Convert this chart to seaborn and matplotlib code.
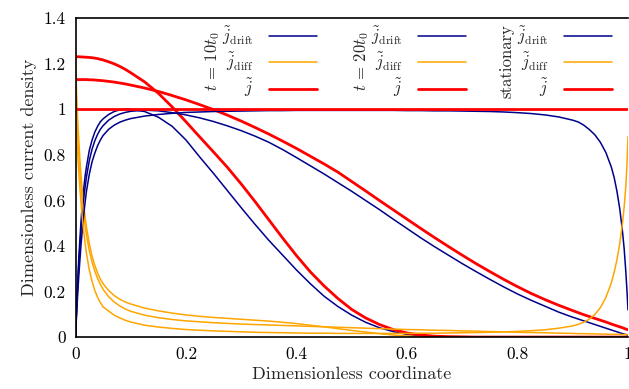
import matplotlib
matplotlib.use("Agg")
import matplotlib.pyplot as plt
import seaborn as sns

# ---------------- data ----------------
x = [0, 0.002, 0.004, 0.006, 0.008, 0.01, 0.0125, 0.015, 0.0175, 0.02, 0.025, 0.03,
     0.035, 0.04, 0.045, 0.05, 0.06, 0.07, 0.08, 0.09, 0.1,
     0.125, 0.15, 0.175, 0.2, 0.225, 0.25, 0.275, 0.3, 0.325, 0.35, 0.375, 0.4,
     0.425, 0.45, 0.475, 0.5, 0.525, 0.55, 0.575, 0.6, 0.625, 0.65, 0.675, 0.7,
     0.725, 0.75, 0.775, 0.8, 0.825, 0.85, 0.875,
     0.9, 0.91, 0.92, 0.93, 0.94, 0.95, 0.96, 0.97, 0.975, 0.98, 0.985, 0.99,
     0.993, 0.996, 0.998, 1.0]

# t = 10 t0
drift_10 = [0, 0.13, 0.25, 0.35, 0.43, 0.51, 0.59, 0.655, 0.71, 0.75, 0.82, 0.865,
            0.9, 0.925, 0.945, 0.958, 0.977, 0.99, 0.997, 1.0, 0.999,
            0.99, 0.965, 0.925, 0.865, 0.79, 0.718, 0.643, 0.568, 0.495, 0.425, 0.36,
            0.295, 0.235, 0.18, 0.135, 0.097, 0.066, 0.042, 0.025, 0.013, 0.006, 0.003,
            0.001, 0, 0, 0, 0, 0, 0, 0, 0,
            0, 0, 0, 0, 0, 0, 0, 0, 0, 0, 0, 0, 0, 0, 0, 0]
diff_10 = [1.23, 1.07, 0.95, 0.86, 0.78, 0.71, 0.635, 0.575, 0.525, 0.48, 0.41, 0.355,
           0.315, 0.282, 0.255, 0.235, 0.205, 0.183, 0.167, 0.155, 0.146,
           0.128, 0.116, 0.106, 0.098, 0.092, 0.087, 0.083, 0.079, 0.075, 0.071, 0.066,
           0.06, 0.053, 0.046, 0.038, 0.03, 0.023, 0.016, 0.01, 0.006, 0.003, 0.0015,
           0.0007, 0.0003, 0, 0, 0, 0, 0, 0, 0,
           0, 0, 0, 0, 0, 0, 0, 0, 0, 0, 0, 0, 0, 0, 0, 0]
total_10 = [1.23, 1.23, 1.23, 1.23, 1.23, 1.229, 1.229, 1.229, 1.228, 1.228, 1.227, 1.226,
            1.224, 1.222, 1.219, 1.216, 1.208, 1.199, 1.188, 1.175, 1.16,
            1.12, 1.07, 1.01, 0.945, 0.878, 0.812, 0.745, 0.672, 0.595, 0.515, 0.435,
            0.358, 0.287, 0.225, 0.17, 0.122, 0.085, 0.056, 0.034, 0.019, 0.01, 0.005,
            0.003, 0.002, 0.001, 0.001, 0.001, 0.001, 0.001, 0.001, 0.001,
            0.001, 0.001, 0.001, 0.001, 0.001, 0.001, 0.001, 0.001, 0.001, 0.001,
            0.001, 0.001, 0.001, 0.001, 0.001, 0.001]

# t = 20 t0
drift_20 = [0, 0.12, 0.23, 0.32, 0.4, 0.47, 0.545, 0.61, 0.66, 0.705, 0.775, 0.825,
            0.862, 0.89, 0.912, 0.928, 0.952, 0.968, 0.979, 0.986, 0.991,
            0.996, 0.993, 0.985, 0.975, 0.962, 0.946, 0.927, 0.906, 0.882, 0.855, 0.823,
            0.788, 0.752, 0.716, 0.678, 0.64, 0.6, 0.56, 0.518, 0.477, 0.436, 0.397,
            0.36, 0.323, 0.288, 0.254, 0.221, 0.19, 0.162, 0.136, 0.11,
            0.088, 0.08, 0.072, 0.064, 0.056, 0.048, 0.04, 0.032, 0.028, 0.024, 0.02,
            0.016, 0.014, 0.012, 0.011, 0.01]
diff_20 = [1.13, 0.99, 0.88, 0.795, 0.725, 0.66, 0.59, 0.535, 0.485, 0.445, 0.38, 0.33,
           0.29, 0.258, 0.232, 0.21, 0.178, 0.155, 0.138, 0.124, 0.114,
           0.097, 0.086, 0.078, 0.072, 0.068, 0.064, 0.061, 0.058, 0.056, 0.054, 0.052,
           0.05, 0.048, 0.046, 0.044, 0.042, 0.04, 0.038, 0.036, 0.034, 0.033, 0.031,
           0.03, 0.028, 0.027, 0.025, 0.024, 0.022, 0.021, 0.02, 0.018,
           0.017, 0.016, 0.016, 0.015, 0.015, 0.014, 0.014, 0.013, 0.013, 0.013, 0.013,
           0.012, 0.012, 0.012, 0.012, 0.012]
total_20 = [1.13, 1.13, 1.13, 1.13, 1.13, 1.13, 1.13, 1.13, 1.13, 1.13, 1.129, 1.129,
            1.128, 1.127, 1.126, 1.125, 1.122, 1.119, 1.115, 1.111, 1.106,
            1.093, 1.078, 1.06, 1.041, 1.02, 0.998, 0.974, 0.948, 0.92, 0.891, 0.86,
            0.828, 0.794, 0.76, 0.724, 0.683, 0.642, 0.6, 0.559, 0.518, 0.477, 0.437,
            0.398, 0.36, 0.323, 0.288, 0.254, 0.222, 0.192, 0.165, 0.14,
            0.117, 0.108, 0.099, 0.091, 0.083, 0.075, 0.067, 0.058, 0.054, 0.05, 0.046,
            0.042, 0.039, 0.036, 0.035, 0.033]

# stationary
drift_st = [0, 0.1, 0.19, 0.27, 0.34, 0.405, 0.475, 0.54, 0.595, 0.643, 0.715, 0.77,
            0.808, 0.84, 0.865, 0.885, 0.912, 0.93, 0.943, 0.952, 0.959,
            0.97, 0.977, 0.982, 0.986, 0.988, 0.99, 0.991, 0.992, 0.993, 0.994, 0.994,
            0.995, 0.995, 0.995, 0.995, 0.995, 0.995, 0.995, 0.995, 0.994, 0.994, 0.993,
            0.993, 0.992, 0.991, 0.99, 0.988, 0.985, 0.981, 0.975, 0.966,
            0.952, 0.944, 0.93, 0.911, 0.888, 0.855, 0.81, 0.745, 0.7, 0.64, 0.565,
            0.465, 0.39, 0.29, 0.21, 0.12]
diff_st = [1.0, 0.89, 0.8, 0.72, 0.65, 0.59, 0.52, 0.46, 0.41, 0.365, 0.295, 0.245,
           0.205, 0.175, 0.152, 0.133, 0.115, 0.097, 0.085, 0.075, 0.067,
           0.053, 0.045, 0.039, 0.034, 0.031, 0.028, 0.026, 0.024, 0.022, 0.021, 0.02,
           0.019, 0.018, 0.018, 0.017, 0.017, 0.017, 0.017, 0.017, 0.017, 0.018, 0.018,
           0.019, 0.02, 0.021, 0.022, 0.024, 0.026, 0.029, 0.033, 0.04,
           0.05, 0.057, 0.066, 0.08, 0.1, 0.13, 0.175, 0.24, 0.285, 0.34, 0.41,
           0.5, 0.57, 0.66, 0.75, 0.88]
x_total_st = [0, 1.0]
total_st = [1.0, 1.0]

x_ticks = [0, 0.2, 0.4, 0.6, 0.8, 1.0]
x_ticklabels = ["0", "0.2", "0.4", "0.6", "0.8", "1"]
y_ticks = [0, 0.2, 0.4, 0.6, 0.8, 1.0, 1.2, 1.4]
y_ticklabels = ["0", "0.2", "0.4", "0.6", "0.8", "1", "1.2", "1.4"]

group_titles = [r"$t\,=\,10t_0$", r"$t\,=\,20t_0$", "stationary"]
series_labels = [r"$\tilde{j}_{\mathrm{drift}}$", r"$\tilde{j}_{\mathrm{diff}}$", r"$\tilde{j}$"]

# ---------------- style ----------------
sns.set_style("white")
plt.rcParams.update({
    "font.family": ["cmr10", "DejaVu Serif"],
    "mathtext.fontset": "cm",
    "axes.formatter.use_mathtext": True,
    "font.size": 12,
})

NAVY = "#00008B"
ORANGE = "#FFA500"
RED = "#FF0000"
thin = 1.1
thick = 2.0

fig = plt.figure(figsize=(6.29, 3.89), dpi=100)
ax = fig.add_axes([75.5 / 629, (389 - 337.3) / 389, 552.5 / 629, 319.3 / 389])

groups = [
    (x, drift_10, x, diff_10, x, total_10),
    (x, drift_20, x, diff_20, x, total_20),
    (x, drift_st, x, diff_st, x_total_st, total_st),
]

handles = []
for xd, yd, xf, yf, xt, yt in groups:
    hs = []
    for xx, yy, col, lw in ((xd, yd, NAVY, thin), (xf, yf, ORANGE, thin), (xt, yt, RED, thick)):
        sns.lineplot(x=xx, y=yy, ax=ax, color=col, lw=lw, estimator=None,
                     sort=False, legend=False)
        hs.append(ax.lines[-1])
    handles.append(hs)

ax.set_xlim(0, 1)
ax.set_ylim(0, 1.4)
ax.set_xticks(x_ticks)
ax.set_xticklabels(x_ticklabels)
ax.set_yticks(y_ticks)
ax.set_yticklabels(y_ticklabels)
ax.tick_params(direction="in", length=5, width=0.8, labelsize=12.5, colors="black")
ax.tick_params(axis="x", pad=7)
ax.tick_params(axis="y", pad=7)
ax.set_xlabel("Dimensionless coordinate", fontsize=13, labelpad=3)
ax.set_ylabel("Dimensionless current density", fontsize=13, labelpad=5)
for s in ("left", "bottom", "top"):
    ax.spines[s].set_linewidth(1.2)
    ax.spines[s].set_color("black")
ax.spines["right"].set_visible(False)

# legends: three columns with rotated titles
leg_x = [0.437, 0.707, 0.971]
title_x = [0.249, 0.518, 0.781]
for i, hs in enumerate(handles):
    leg = ax.legend(hs, series_labels, loc="upper right",
                    bbox_to_anchor=(leg_x[i], 0.982), bbox_transform=ax.transAxes,
                    frameon=False, markerfirst=False, handlelength=2.9,
                    handletextpad=0.9, labelspacing=0.2, borderpad=0,
                    borderaxespad=0, fontsize=12)
    if i < len(handles) - 1:
        ax.add_artist(leg)
    ax.text(title_x[i], 0.865, group_titles[i], rotation=90, ha="center",
            va="center", transform=ax.transAxes, fontsize=12)

fig.savefig("out.png", dpi=100)
